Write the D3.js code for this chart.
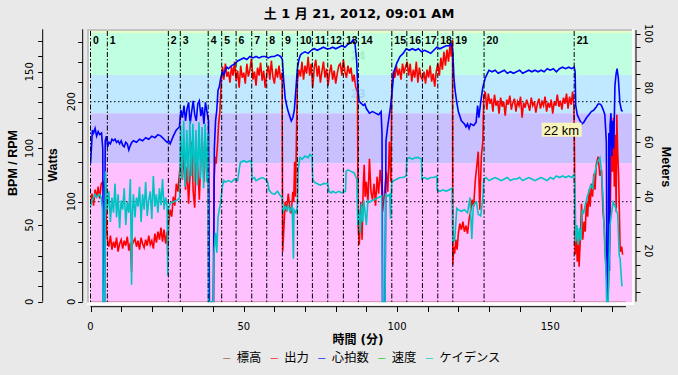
<!DOCTYPE html>
<html><head><meta charset="utf-8">
<script src="https://cdn.jsdelivr.net/npm/d3@7"></script>
<style>body{margin:0;background:#e9e9e9;}svg{display:block;}</style>
</head><body><svg id="c" width="678" height="375"></svg>
<script>
const titleText = "土 1 月 21, 2012, 09:01 AM";
const xLabel = "時間 (分)";
const xTickVals = d3.range(0, 171, 10);
const xLabelVals = [0, 50, 100, 150];
const bpmTickVals = d3.range(0, 171, 10);
const bpmLabelVals = [0, 50, 100, 150];
const wattTickVals = d3.range(0, 261, 20);
const wattLabelVals = [0, 100, 200];
const meterTickVals = d3.range(5, 101, 5);
const meterLabelVals = [20, 40, 60, 80, 100];
const wattGrid = [100, 200];
const zoneEdges = [0, 138.5, 188.5, 226.7, 268.7, 272.4];
const zoneColors = ["#ffc0ff", "#c8c0ff", "#c0e8ff", "#c0ffe0", "#e6ffc4"];
const lapTimes = [0, 5.5, 25.4, 29.3, 38.4, 42.8, 47.5, 52.6, 57.5, 62.6, 67.5, 72.4, 77.4, 82.5, 87.4, 98.3, 103.2, 108.3, 113.3, 118.2, 128.4, 157.8];
const lapNames = d3.range(0, 22).map(String);
const legendNames = ["標高", "出力", "心拍数", "速度", "ケイデンス"];
const legendColors = ["#a0522d", "#ff0000", "#0000ff", "#00d000", "#00c4c4"];
const distLabel = {t: 157.8, w: 172, text: "22 km"};

const elevation = [[0,1.3],[174.7,1.3]];
const power = [[0,100],[0.5,108],[1,96],[1.5,112],[2,104],[2.5,115],[3,103],[3.5,118],[4,120],[4.5,112],[5,95],[5.3,70],
[5.5,62],[6,55],[6.5,66],[7,52],[7.5,60],[8,54],[8.5,64],[9,50],[9.5,58],[10,62],[10.5,53],[11,61],[11.5,56],[12,65],[12.5,51],[13,59],[13.4,30],[13.6,57],[14,60],[14.5,63],[15,55],[15.5,61],[16,52],[16.5,64],[17,58],[17.5,54],[18,62],[18.5,56],[19,66],[19.5,57],[20,61],[20.5,53],[21,68],[21.5,59],[22,70],[22.5,62],[23,74],[23.5,60],[24,72],[24.5,58],[25,70],[25.2,47],
[25.5,78],[26,92],[26.5,85],[27,105],[27.5,96],[28,118],[28.5,110],[29,128],
[29.5,140],[30,122],[30.5,150],[31,112],[31.5,135],[32,98],[32.5,128],[33,160],[33.5,110],[34,94],[34.5,150],[35,135],[35.5,102],[36,142],[36.5,160],[37,120],[37.5,155],[38,140],[38.4,150],[38.6,0],[40.1,0],
[40.3,120],[40.7,145],[41,138],[41.5,160],[41.8,178],[42.2,190],[42.5,210],[42.8,225],[43.1,235],[43.5,222],[44,238],[44.5,225],[45,230],[45.5,219],[46,235],[46.5,226],[47,240],[47.5,221],[48,231],[48.5,214],[49,236],[49.5,224],[50,229],[50.5,218],[51,238],[51.5,225],[52,232],[52.5,243],[53,222],[53.5,230],[54,216],[54.5,234],[55,226],[55.5,239],[56,221],[56.5,231],[57,214],[57.5,228],[58,236],[58.5,222],[59,241],[59.5,225],[60,218],[60.5,233],[61,224],[61.5,236],[62,222],[62.5,229],
[62.7,50],[63.2,80],[63.5,100],[64,90],[64.5,108],[65,95],[65.5,88],[66,110],[66.3,100],[66.6,140],[66.9,105],[67.2,167],
[67.5,220],[68,232],[68.5,225],[69,240],[69.5,222],[70,236],[70.5,228],[71,245],[71.5,226],[72,238],[72.5,214],[73,234],[73.5,242],[74,225],[74.5,236],[75,219],[75.5,230],[76,240],[76.5,224],[77,233],[77.5,216],[78,229],[78.5,237],[79,222],[79.5,231],[80,218],[80.5,228],[81,236],[81.5,238],[82,226],[82.5,242],[83,230],[83.5,224],[84,236],[84.5,228],[85,234],[85.5,220],[86,227],[86.5,215],[87.1,210],
[87.3,77],[87.7,57],[88.2,100],[88.6,62],[89,118],[89.3,137],[89.6,105],[90,120],[90.5,98],[91,143],[91.5,110],[92,102],[92.5,118],[93,96],[93.5,125],[94,108],[94.5,132],[95,115],[95.3,90],[95.6,100],[96,112],[96.5,130],[97,110],[97.5,160],[98,120],
[98.3,218],[98.8,230],[99.3,224],[99.8,236],[100.3,226],[100.8,233],[101.3,222],[101.8,238],[102.3,228],[102.8,235],[103.3,240],[103.8,226],[104.3,238],[104.8,220],[105.3,232],[105.8,224],[106.3,240],[106.8,219],[107.3,234],[107.8,225],[108.3,222],[108.8,230],[109.3,218],[109.8,232],[110.3,224],[110.8,236],[111.3,220],[111.8,228],[112.3,215],[112.8,230],[113.3,238],[113.8,226],[114.3,244],[114.8,232],[115.3,250],[115.8,236],[116.3,252],[116.8,240],[117.3,258],[117.7,245],[118.1,262],
[118.2,37],[118.5,55],[118.8,48],[119.2,62],[119.6,52],[120,68],[120.5,78],[121,72],[121.5,80],[122,70],[122.5,76],[123,68],[123.5,82],[124,90],[124.5,102],[125,95],[125.5,120],[126,135],[126.5,150],[127,92],[127.5,145],[128,160],
[128.3,205],[128.8,210],[129.3,192],[129.8,208],[130.3,198],[130.8,203],[131.3,190],[131.8,207],[132.3,196],[132.8,201],[133.3,188],[133.8,204],[134.3,195],[134.8,200],[135.3,186],[135.8,202],[136.3,197],[136.8,206],[137.3,192],[137.8,199],[138.3,203],[138.8,190],[139.3,200],[139.8,196],[140.3,205],[140.8,184],[141.3,199],[141.8,194],[142.3,202],[142.8,197],[143.3,191],[143.8,204],[144.3,196],[144.8,200],[145.3,189],[145.8,198],[146.3,203],[146.8,193],[147.3,200],[147.8,196],[148.3,205],[148.8,190],[149.3,199],[149.8,194],[150.3,202],[150.8,188],[151.3,200],[151.8,196],[152.3,207],[152.8,195],[153.3,201],[153.8,192],[154.3,204],[154.8,198],[155.3,208],[155.8,193],[156.3,205],[156.8,197],[157.3,210],[157.7,196],
[157.9,150],[158.1,47],[158.5,65],[158.8,40],[159.1,70],[159.4,35],[159.7,55],[160.2,98],[160.6,62],[161,80],[161.4,70],[161.8,100],[162.2,85],[162.6,112],[163,95],[163.4,118],[163.8,105],[164.2,128],[164.6,112],[165,137],[165.6,145],[166.2,126],[166.7,132],[167.2,90],[167.6,77],[168,43],[168.5,20],[168.9,10],[169.5,77],[170,177],[170.3,130],[170.6,184],[170.9,115],[171.2,167],[171.5,90],[171.7,187],[172,150],[172.3,126],[172.8,50],[173.3,55],[173.6,47]];

const heartRate = [[0,90],[0.3,100],[0.6,112],[1,110],[1.5,113],[2,108],[2.5,111],[3,109],[3.6,110],[4.0,100],[4.2,0],[4.6,0],[4.8,105],[5.2,108],[5.6,101],[6,104],[6.5,103],[7,106],[7.5,105],[8,106],[8.5,104],[9,105],[9.5,103],[10,105],[10.5,102],[11,101],[11.5,104],[12,103],[12.5,99],[13,102],[13.5,104],[14,105],[15,104],[16,106],[17,105],[18,107],[19,106],[20,108],[21,107],[22,109],[23,108],[24,106],[25,104],[25.5,105],[26,103],[27,108],[28,112],[29,114],[29.5,125],[30,120],[30.5,128],[31,118],[31.5,126],[32,130],[32.5,116],[33,124],[33.5,131],[34,122],[34.5,118],[35,129],[35.5,131],[36,121],[36.5,127],[37,116],[37.5,130],[38,124],[38.5,118],[38.8,0],[40.1,0],[40.4,100],[40.8,118],[41.2,125],[41.6,138],[42,140],[42.5,146],[43,150],[43.5,148],[44,151],[44.5,153],[45,152],[46,154],[47,155],[48,157],[49,158],[50,159],[51,158],[52,160],[53,159],[54,160],[55,159],[56,160],[57,160],[58,159],[59,160],[60,160],[61,161],[62,160],[62.6,158],[63,145],[63.5,133],[64,128],[64.5,124],[65,121],[65.5,118],[66,120],[66.5,125],[67,138],[67.5,152],[68,158],[68.5,161],[69,162],[70,163],[71,162],[72,164],[73,165],[74,164],[75,165],[76,166],[77,165],[78,165],[79,166],[80,165],[81,166],[82,167],[83,166],[84,168],[85,169],[85.7,171],[86.3,168],[86.8,158],[87.2,140],[87.6,131],[88,130],[89,128],[89.5,129],[90,126],[91,123],[92,124],[93,123],[94,122],[94.8,124],[95.1,110],[95.3,0],[96.1,0],[96.4,105],[97,115],[97.8,126],[98.3,135],[99,150],[100,156],[101,160],[102,162],[103,165],[104,164],[105,165],[106,164],[107,165],[108,163],[109,164],[110,163],[111,162],[112,164],[113,166],[114,165],[115,166],[116,167],[117,167],[117.7,168],[118.2,163],[118.6,145],[119,137],[119.5,130],[120,124],[121,118],[122,116],[122.5,114],[123,116],[123.5,113],[124,116],[125,115],[125.8,117],[126.3,128],[126.7,120],[127.3,130],[128,140],[128.8,146],[129.5,149],[130,151],[131,150],[132,151],[133,149],[134,150],[135,151],[136,149],[137,150],[138,149],[139,150],[140,151],[141,149],[142,150],[143,151],[144,150],[145,151],[146,150],[147,151],[148,150],[149,152],[150,151],[151,152],[152,150],[153,152],[154,153],[155,152],[156,153],[157,152],[157.8,153],[158.1,150],[158.3,128],[158.8,122],[159.5,119],[160.3,116],[160.9,117],[161.8,120],[162.6,122],[163.4,124],[164.2,125],[165,127],[165.6,129],[166.2,129],[166.7,128],[167.3,125],[167.8,122],[168.3,104],[168.5,0],[168.9,0],[169.1,110],[169.3,20],[169.5,115],[169.8,123],[170.1,95],[170.4,118],[170.7,100],[171.1,141],[171.5,149],[171.8,152],[172.2,146],[172.7,130],[173.2,125],[173.6,124]];

const cadence = [[0,62],[0.5,66],[1,68],[1.5,70],[2,68],[2.5,69],[3,70],[3.5,68],[3.9,60],[4.1,0],[4.6,0],[4.9,85],[5.2,70],
[5.5,60],[6,72],[6.5,52],[7,68],[7.5,58],[8,77],[8.5,55],[9,70],[9.5,48],[10,66],[10.5,60],[11,74],[11.5,50],[12,65],[12.5,58],[13,80],[13.4,11],[13.7,60],[14,70],[14.5,55],[15,68],[15.5,62],[16,75],[16.5,52],[17,70],[17.5,60],[18,78],[18.5,56],[19,66],[19.5,72],[20,54],[20.5,82],[21,62],[21.5,70],[22,58],[22.5,74],[23,63],[23.5,80],[24,60],[24.5,68],[25,62],[25.2,17],[25.4,60],[26,64],[27,65],[28,66],[28.7,67],[29.1,68],
[29.4,115],[29.9,80],[30.4,118],[30.9,75],[31.4,112],[31.9,78],[32.4,118],[32.9,82],[33.4,116],[33.9,78],[34.4,112],[34.9,76],[35.4,117],[35.9,80],[36.4,114],[36.9,74],[37.4,116],[37.9,78],[38.3,110],[38.5,0],[40.1,0],[40.3,32],[40.8,45],[41.2,32],[41.6,55],[42,60],[42.5,65],[43,75],[43.5,79],[44,78],[45,79],[46,78],[47,80],[48,79],[48.8,90],[49,91],[50,92],[51,91],[52,92],[52.5,91],[52.7,80],[53.5,81],[54,79],[55,80],[56,81],[57,80],[57.8,78],[58.2,73],[59,71],[60,70],[61,72],[62,69],[62.5,68],[62.8,58],[63.5,62],[64,60],[64.5,63],[65,59],[65.8,62],[66.2,28],[66.4,60],[67,58],[67.5,62],[67.8,87],[68.3,94],[69,93],[70,95],[71,94],[71.5,96],[72.3,95],[72.5,80],[73,78],[74,77],[75,76],[76,77],[77.4,77],[77.8,72],[78.5,71],[79,72],[80,71],[81,72],[82,71],[83.2,72],[83.4,85],[84,86],[85,85],[86,84],[86.9,80],[87.2,50],[87.6,60],[88,45],[88.4,64],[88.8,52],[89.2,66],[89.6,58],[90,50],[90.5,66],[91,65],[92,66],[93,67],[94,68],[95,69],[95.2,0],[96.1,0],[96.3,70],[97,69],[97.6,70],[97.9,54],[98.1,70],[98.3,78],[99,79],[100,80],[101,81],[102,81],[103,82],[103.2,93],[104,94],[105,93],[106,94],[107,94],[108,93],[108.1,80],[109,81],[110,80],[111,81],[112,81],[113,82],[113.1,73],[114,72],[115,73],[116,72],[117,73],[118,74],[118.2,39],[118.8,40],[119.5,61],[120,60],[121,59],[122,60],[123,58],[123.8,68],[124.4,41],[124.9,63],[125.9,65],[126.5,57],[127.3,56],[128,68],[128.3,80],[129,81],[130,79],[131,80],[132,81],[133,80],[134,79],[135,80],[136,81],[137,79],[138,80],[139,80],[140,81],[141,79],[142,80],[143,81],[144,80],[145,79],[146,80],[147,81],[148,80],[149,79],[150,81],[151,80],[152,82],[153,81],[154,82],[155,81],[156,82],[157,81],[157.8,83],[158.1,72],[158.3,39],[158.7,50],[159.1,37],[159.5,48],[160,40],[160.4,60],[160.9,58],[161.4,63],[162,68],[162.6,72],[163.2,76],[163.8,74],[164.3,82],[165.1,89],[165.6,92],[166.2,94],[166.7,85],[167.2,68],[167.7,40],[168.1,25],[168.4,0],[168.9,0],[169.2,28],[169.5,50],[170,58],[170.5,65],[171,63],[171.5,60],[172,57],[172.5,30],[172.8,28],[173.2,15],[173.4,10]];

const svg = d3.select("#c");
const x = d3.scaleLinear().domain([0, 176.5]).range([90.5, 631.5]);
const yB = d3.scaleLinear().domain([0, 177.7]).range([301.7, 29.3]);
const yW = d3.scaleLinear().domain([0, 272.4]).range([301.7, 29.3]);
const yM = d3.scaleLinear().domain([0, 100]).range([305.3, 33.5]);
const P = {l: 90, r: 632, t: 31, b: 302.5};

// frame
svg.append("rect").attr("x", 87).attr("y", 29).attr("width", 547).attr("height", 276).attr("fill", "#ffffff");
svg.append("rect").attr("x", 87).attr("y", 29).attr("width", 547).attr("height", 2).attr("fill", "#c4c4c4");
svg.append("rect").attr("x", 87).attr("y", 29).attr("width", 2).attr("height", 276).attr("fill", "#c4c4c4");

// zones
const zones = d3.range(zoneColors.length).map(i => ({lo: zoneEdges[i], hi: zoneEdges[i+1], c: zoneColors[i]}));
svg.append("g").selectAll("rect").data(zones).join("rect")
  .attr("x", P.l).attr("width", P.r - P.l)
  .attr("y", d => Math.max(P.t, yW(d.hi)))
  .attr("height", d => (d.lo === 0 ? P.b : yW(d.lo)) - Math.max(P.t, yW(d.hi)))
  .attr("fill", d => d.c);

svg.append("defs").append("clipPath").attr("id", "clip").append("rect")
  .attr("x", P.l).attr("y", P.t).attr("width", P.r - P.l).attr("height", P.b - P.t);

// faint labels
svg.append("text").attr("x", 358).attr("y", 60).attr("text-anchor", "middle")
  .attr("font-family", "Liberation Sans, sans-serif").attr("font-weight", "bold").attr("font-size", 13)
  .attr("fill", "#a4f0c8").text("24");
svg.append("text").attr("x", 358).attr("y", 98).attr("text-anchor", "middle")
  .attr("font-family", "Liberation Sans, sans-serif").attr("font-weight", "bold").attr("font-size", 13)
  .attr("fill", "#a4d4f8").text("23");

// grid dotted
svg.append("g").selectAll("line").data(wattGrid).join("line")
  .attr("x1", P.l).attr("x2", P.r).attr("y1", d => yW(d)).attr("y2", d => yW(d))
  .attr("stroke", "#000").attr("stroke-width", 1).attr("stroke-dasharray", "1.5,2.5");

const data = svg.append("g").attr("clip-path", "url(#clip)");
data.append("path").datum(elevation)
  .attr("d", d3.line().x(d => x(d[0])).y(d => yM(d[1])))
  .attr("fill", "none").attr("stroke", "#a0522d").attr("stroke-width", 1.2).attr("stroke-dasharray", "1,1");
data.append("path").datum(power)
  .attr("d", d3.line().x(d => x(d[0])).y(d => yW(d[1])))
  .attr("fill", "none").attr("stroke", "#ff0000").attr("stroke-width", 1.6).attr("stroke-linejoin", "miter");
data.append("path").datum(heartRate)
  .attr("d", d3.line().x(d => x(d[0])).y(d => yB(d[1])))
  .attr("fill", "none").attr("stroke", "#0000ff").attr("stroke-width", 1.6);
data.append("path").datum(cadence)
  .attr("d", d3.line().x(d => x(d[0])).y(d => yB(d[1])))
  .attr("fill", "none").attr("stroke", "#00c4c4").attr("stroke-width", 1.6);

// laps
const laps = svg.append("g");
laps.selectAll("line").data(lapTimes).join("line")
  .attr("x1", d => x(d)).attr("x2", d => x(d)).attr("y1", P.t).attr("y2", P.b)
  .attr("stroke", "#000").attr("stroke-width", 1).attr("stroke-dasharray", "5,2,1.5,2");
laps.selectAll("text").data(lapTimes).join("text")
  .attr("x", d => x(d) + 2.5).attr("y", 44)
  .attr("font-family", "Liberation Sans, Arial, sans-serif").attr("font-weight", "bold").attr("font-size", 10.5)
  .attr("fill", "#000").text((d, i) => lapNames[i]);

// distance label
const dl = svg.append("g");
dl.append("rect").attr("x", x(distLabel.t) - 32.5).attr("y", yW(distLabel.w) - 7).attr("width", 40).attr("height", 14).attr("fill", "#f8f4bc");
dl.append("text").attr("x", x(distLabel.t) - 30.5).attr("y", yW(distLabel.w) + 5)
  .attr("font-family", "Liberation Sans, Arial, sans-serif").attr("font-size", 13).attr("fill", "#000").text(distLabel.text);

// white border bottom/right
svg.append("rect").attr("x", P.r).attr("y", 29).attr("width", 2).attr("height", 276).attr("fill", "#fff");
svg.append("rect").attr("x", 87).attr("y", P.b).attr("width", 547).attr("height", 2.5).attr("fill", "#fff");

const fontTick = "DejaVu Sans, sans-serif";
function leftAxis(ax, scale, ticks, labels, labX) {
  const g = svg.append("g");
  g.append("line").attr("x1", ax).attr("x2", ax).attr("y1", 29.3).attr("y2", 301.7).attr("stroke", "#000");
  g.selectAll("line.t").data(ticks).join("line").attr("class", "t")
    .attr("x1", ax - 4.5).attr("x2", ax).attr("y1", d => Math.round(scale(d)) + 0.5).attr("y2", d => Math.round(scale(d)) + 0.5).attr("stroke", "#000");
  g.selectAll("text").data(labels).join("text")
    .attr("transform", d => `translate(${labX},${scale(d)}) rotate(-90)`)
    .attr("text-anchor", "middle").attr("font-family", fontTick).attr("font-size", 10).attr("fill", "#000")
    .text(d => d);
}
leftAxis(42.7, yB, bpmTickVals, bpmLabelVals, 33.3);
leftAxis(82.7, yW, wattTickVals, wattLabelVals, 75);

// Meters axis
const gm = svg.append("g");
gm.append("line").attr("x1", 636).attr("x2", 636).attr("y1", 30).attr("y2", 301.7).attr("stroke", "#000");
gm.selectAll("line.t").data(meterTickVals).join("line").attr("class", "t")
  .attr("x1", 636).attr("x2", 640.5).attr("y1", d => Math.round(yM(d)) + 0.5).attr("y2", d => Math.round(yM(d)) + 0.5).attr("stroke", "#000");
gm.selectAll("text").data(meterLabelVals).join("text")
  .attr("transform", d => `translate(645,${yM(d)}) rotate(90)`)
  .attr("text-anchor", "middle").attr("font-family", fontTick).attr("font-size", 10).attr("fill", "#000")
  .text(d => d);

// X axis
const gx = svg.append("g");
gx.append("line").attr("x1", x(0)).attr("x2", x(174.7)).attr("y1", 306.7).attr("y2", 306.7).attr("stroke", "#000");
gx.selectAll("line.t").data(xTickVals).join("line").attr("class", "t")
  .attr("x1", d => Math.round(x(d)) + 0.5).attr("x2", d => Math.round(x(d)) + 0.5).attr("y1", 306.7).attr("y2", 312).attr("stroke", "#000");
gx.selectAll("text").data(xLabelVals).join("text")
  .attr("x", d => x(d)).attr("y", 330).attr("text-anchor", "middle")
  .attr("font-family", fontTick).attr("font-size", 10).attr("fill", "#000").text(d => d);

// titles
const fb = "Liberation Sans, Arial, sans-serif";
svg.append("text").attr("x", 359).attr("y", 18).attr("text-anchor", "middle")
  .attr("font-family", "DejaVu Sans, 'Noto Sans CJK JP', sans-serif").attr("font-weight", "bold").attr("font-size", 13)
  .text(titleText);
svg.append("text").attr("x", 358).attr("y", 344).attr("text-anchor", "middle")
  .attr("font-family", "DejaVu Sans, 'Noto Sans CJK JP', sans-serif").attr("font-weight", "bold").attr("font-size", 12)
  .text(xLabel);
svg.append("text").attr("transform", "translate(16.7,163) rotate(-90)").attr("text-anchor", "middle")
  .attr("font-family", fb).attr("font-weight", "bold").attr("font-size", 12.5).text("BPM / RPM");
svg.append("text").attr("transform", "translate(56.7,165) rotate(-90)").attr("text-anchor", "middle")
  .attr("font-family", fb).attr("font-weight", "bold").attr("font-size", 12.5).text("Watts");
svg.append("text").attr("transform", "translate(661.7,167) rotate(90)").attr("text-anchor", "middle")
  .attr("font-family", fb).attr("font-weight", "bold").attr("font-size", 12.5).text("Meters");

// legend
const lg = svg.append("g");
let cx = 0;
legendNames.forEach((n, i) => {
  const d = lg.append("text").attr("x", cx).attr("y", -1).attr("font-family", "DejaVu Sans, sans-serif").attr("font-size", 8)
    .attr("fill", legendColors[i]).text("—");
  cx += d.node().getComputedTextLength() + 6;
  const t = lg.append("text").attr("x", cx).attr("y", 0).attr("font-family", "'Noto Sans CJK JP', sans-serif").attr("font-size", 12.3)
    .attr("fill", "#000").text(n);
  cx += t.node().getComputedTextLength() + 9;
});
cx -= 9;
lg.attr("transform", `translate(${361.5 - cx / 2},362)`);
</script></body></html>
